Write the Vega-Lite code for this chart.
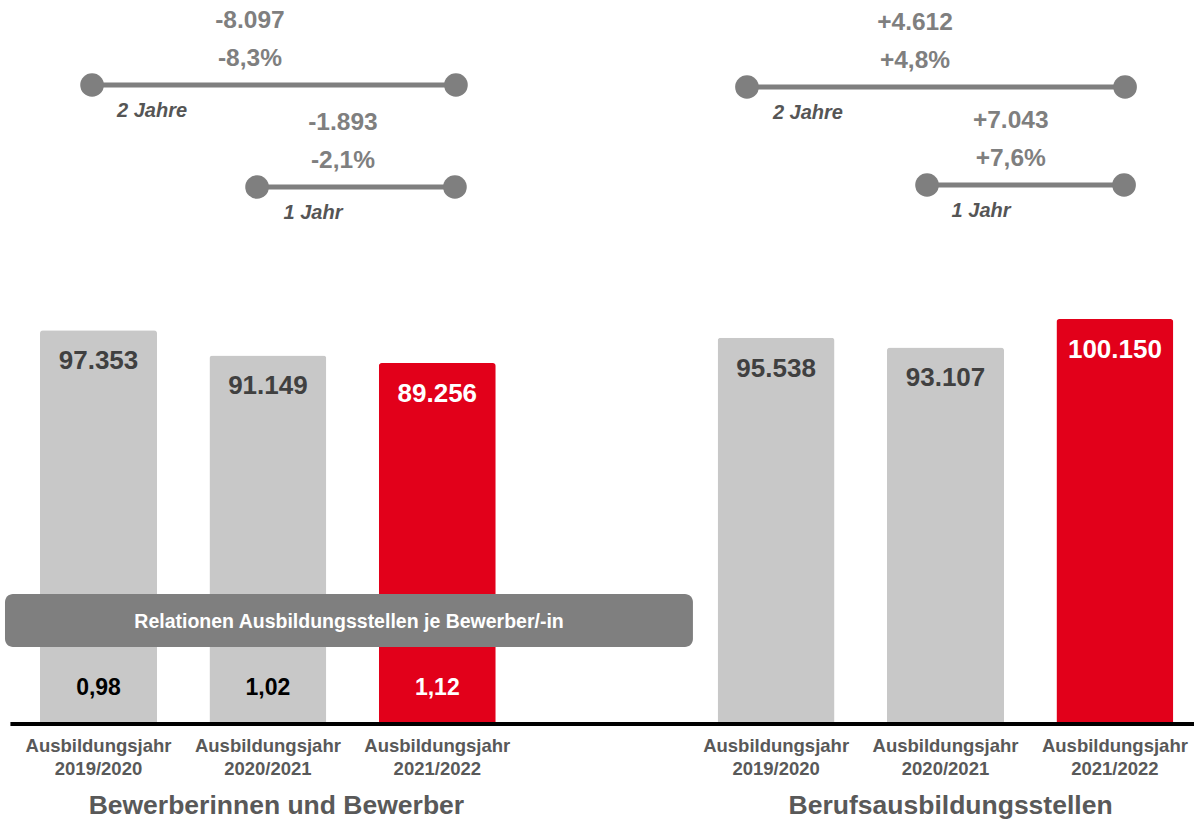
{
  "$schema": "https://vega.github.io/schema/vega-lite/v6.json",
  "width": 1194,
  "height": 820,
  "padding": 0,
  "autosize": "none",
  "background": "white",
  "config": {"view": {"stroke": null}, "font": "Liberation Sans", "text": {"font": "Liberation Sans"}},
  "datasets": {
    "bars": [
      {"group": "Bewerberinnen und Bewerber", "year": "2019/2020", "pos": 0, "value": 97353, "valueLabel": "97.353", "ratio": "0,98", "current": "no"},
      {"group": "Bewerberinnen und Bewerber", "year": "2020/2021", "pos": 1, "value": 91149, "valueLabel": "91.149", "ratio": "1,02", "current": "no"},
      {"group": "Bewerberinnen und Bewerber", "year": "2021/2022", "pos": 2, "value": 89256, "valueLabel": "89.256", "ratio": "1,12", "current": "yes"},
      {"group": "Berufsausbildungsstellen", "year": "2019/2020", "pos": 4, "value": 95538, "valueLabel": "95.538", "ratio": null, "current": "no"},
      {"group": "Berufsausbildungsstellen", "year": "2020/2021", "pos": 5, "value": 93107, "valueLabel": "93.107", "ratio": null, "current": "no"},
      {"group": "Berufsausbildungsstellen", "year": "2021/2022", "pos": 6, "value": 100150, "valueLabel": "100.150", "ratio": null, "current": "yes"}
    ],
    "changes": [
      {"group": "Bewerberinnen und Bewerber", "span": "2 Jahre", "from": -0.038, "to": 2.11, "level": 158015, "abs": "-8.097", "pct": "-8,3%", "labelPos": 0.894, "spanPos": 0.316},
      {"group": "Bewerberinnen und Bewerber", "span": "1 Jahr", "from": 0.936, "to": 2.104, "level": 132793, "abs": "-1.893", "pct": "-2,1%", "labelPos": 1.443, "spanPos": 1.266},
      {"group": "Berufsausbildungsstellen", "span": "2 Jahre", "from": 3.828, "to": 6.06, "level": 157520, "abs": "+4.612", "pct": "+4,8%", "labelPos": 4.82, "spanPos": 4.188},
      {"group": "Berufsausbildungsstellen", "span": "1 Jahr", "from": 4.891, "to": 6.054, "level": 133287, "abs": "+7.043", "pct": "+7,6%", "labelPos": 5.385, "spanPos": 5.21}
    ],
    "groups": [
      {"group": "Bewerberinnen und Bewerber", "center": 1.05},
      {"group": "Berufsausbildungsstellen", "center": 5.03}
    ],
    "box": [
      {"label": "Relationen Ausbildungsstellen je Bewerber/-in", "x1": -0.552, "x2": 3.509, "y1": 19041, "y2": 32147, "center": 1.479}
    ]
  },
  "encoding": {},
  "layer": [
    {
      "data": {"name": "bars"},
      "mark": {"type": "bar", "width": 117, "cornerRadiusTopLeft": 3, "cornerRadiusTopRight": 3},
      "encoding": {
        "x": {"field": "pos", "type": "quantitative", "scale": {"domain": [-0.5815, 6.4669], "nice": false, "zero": false, "padding": 0}, "axis": null},
        "y": {"field": "value", "type": "quantitative", "scale": {"domain": [-23739, 179035], "nice": false, "zero": false, "padding": 0}, "axis": null},
        "color": {"field": "current", "type": "nominal", "scale": {"domain": ["no", "yes"], "range": ["#c8c8c8", "#e2001a"]}, "legend": null}
      }
    },
    {
      "data": {"name": "bars"},
      "mark": {"type": "text", "font": "Liberation Sans", "fontSize": 26, "fontWeight": "bold", "baseline": "middle", "dy": 31},
      "encoding": {
        "x": {"field": "pos", "type": "quantitative"},
        "y": {"field": "value", "type": "quantitative"},
        "text": {"field": "valueLabel"},
        "fill": {"condition": {"test": "datum.current === 'yes'", "value": "#ffffff"}, "value": "#404040"}
      }
    },
    {
      "data": {"name": "bars"},
      "transform": [{"filter": "datum.ratio != null"}],
      "mark": {"type": "text", "font": "Liberation Sans", "fontSize": 23, "fontWeight": "bold", "baseline": "middle", "dy": -36},
      "encoding": {
        "x": {"field": "pos", "type": "quantitative"},
        "y": {"datum": 0},
        "text": {"field": "ratio"},
        "fill": {"condition": {"test": "datum.current === 'yes'", "value": "#ffffff"}, "value": "#000000"}
      }
    },
    {
      "data": {"name": "box"},
      "mark": {"type": "rect", "color": "#7f7f7f", "cornerRadius": 8},
      "encoding": {
        "x": {"field": "x1", "type": "quantitative"},
        "x2": {"field": "x2"},
        "y": {"field": "y1", "type": "quantitative"},
        "y2": {"field": "y2"}
      }
    },
    {
      "data": {"name": "box"},
      "mark": {"type": "text", "font": "Liberation Sans", "fontSize": 19.5, "fontWeight": "bold", "color": "white", "baseline": "middle", "dy": -25},
      "encoding": {
        "x": {"field": "center", "type": "quantitative"},
        "y": {"field": "y1", "type": "quantitative"},
        "text": {"field": "label"}
      }
    },
    {
      "data": {"values": [{"a": -0.52, "b": 6.4669}]},
      "mark": {"type": "rule", "color": "black", "strokeWidth": 4},
      "encoding": {
        "x": {"field": "a", "type": "quantitative"},
        "x2": {"field": "b"},
        "y": {"datum": 0}
      }
    },
    {
      "data": {"name": "bars"},
      "transform": [{"calculate": "'Ausbildungsjahr\\n' + datum.year", "as": "axisLabel"}],
      "mark": {"type": "text", "font": "Liberation Sans", "fontSize": 18.5, "fontWeight": "bold", "color": "#595959", "baseline": "middle", "lineBreak": "\n", "lineHeight": 23, "dy": 22},
      "encoding": {
        "x": {"field": "pos", "type": "quantitative"},
        "y": {"datum": 0},
        "text": {"field": "axisLabel"}
      }
    },
    {
      "data": {"name": "groups"},
      "mark": {"type": "text", "font": "Liberation Sans", "fontSize": 26.5, "fontWeight": "bold", "color": "#595959", "baseline": "middle", "dy": 82},
      "encoding": {
        "x": {"field": "center", "type": "quantitative"},
        "y": {"datum": 0},
        "text": {"field": "group"}
      }
    },
    {
      "data": {"name": "changes"},
      "mark": {"type": "rule", "color": "#7f7f7f", "strokeWidth": 5},
      "encoding": {
        "x": {"field": "from", "type": "quantitative"},
        "x2": {"field": "to"},
        "y": {"field": "level", "type": "quantitative"}
      }
    },
    {
      "data": {"name": "changes"},
      "transform": [{"fold": ["from", "to"], "as": ["end", "endPos"]}],
      "mark": {"type": "point", "filled": true, "opacity": 1, "color": "#7f7f7f", "size": 560},
      "encoding": {
        "x": {"field": "endPos", "type": "quantitative"},
        "y": {"field": "level", "type": "quantitative"}
      }
    },
    {
      "data": {"name": "changes"},
      "mark": {"type": "text", "font": "Liberation Sans", "fontSize": 24.5, "fontWeight": "bold", "color": "#7f7f7f", "baseline": "middle", "dy": -64},
      "encoding": {
        "x": {"field": "labelPos", "type": "quantitative"},
        "y": {"field": "level", "type": "quantitative"},
        "text": {"field": "abs"}
      }
    },
    {
      "data": {"name": "changes"},
      "mark": {"type": "text", "font": "Liberation Sans", "fontSize": 24.5, "fontWeight": "bold", "color": "#7f7f7f", "baseline": "middle", "dy": -26},
      "encoding": {
        "x": {"field": "labelPos", "type": "quantitative"},
        "y": {"field": "level", "type": "quantitative"},
        "text": {"field": "pct"}
      }
    },
    {
      "data": {"name": "changes"},
      "mark": {"type": "text", "font": "Liberation Sans", "fontSize": 20, "fontWeight": "bold", "fontStyle": "italic", "color": "#555555", "baseline": "middle", "dy": 26},
      "encoding": {
        "x": {"field": "spanPos", "type": "quantitative"},
        "y": {"field": "level", "type": "quantitative"},
        "text": {"field": "span"}
      }
    }
  ]
}
